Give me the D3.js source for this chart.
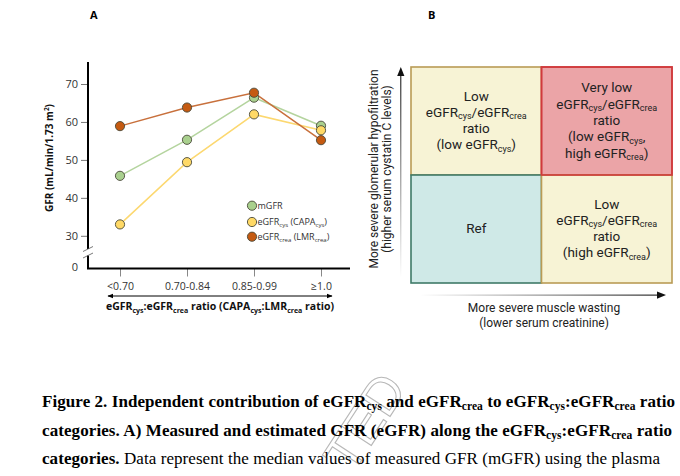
<!DOCTYPE html>
<html>
<head>
<meta charset="utf-8">
<script src="https://cdn.jsdelivr.net/npm/d3@7"></script>
<style>
  body { margin: 0; background: #fff; }
  svg { display: block; }
</style>
</head>
<body>
<svg width="680" height="476"></svg>
<script>
// данные панели A
const categories = ["<0.70", "0.70-0.84", "0.85-0.99", "≥1.0"];
const mGFR = [45.8, 55.3, 66.4, 59.0];
const eGFRcys = [33.0, 49.4, 62.0, 57.8];
const eGFRcrea = [58.9, 63.8, 67.7, 55.2];
const yTicks = [0, 30, 40, 50, 60, 70];

// панель B: клетки 2x2
const wasting = ["less", "more"];
const hypofiltration = ["more", "less"];
const cells = [
    { col: "less", row: "more", fill: "#f7f3d5", stroke: "#b99b55",
      lines: [[["Low"]], [["eGFR"], ["cys", 1], ["/eGFR"], ["crea", 1]], [["ratio"]], [["(low eGFR"], ["cys", 1], [")"]]] },
    { col: "more", row: "more", fill: "#eba4a7", stroke: "#d03a3c",
      lines: [[["Very low"]], [["eGFR"], ["cys", 1], ["/eGFR"], ["crea", 1]], [["ratio"]], [["(low eGFR"], ["cys", 1], [","]], [["high eGFR"], ["crea", 1], [")"]]] },
    { col: "less", row: "less", fill: "#cfe9e7", stroke: "#3f7a68",
      lines: [[["Ref"]]] },
    { col: "more", row: "less", fill: "#f7f3d5", stroke: "#b99b55",
      lines: [[["Low"]], [["eGFR"], ["cys", 1], ["/eGFR"], ["crea", 1]], [["ratio"]], [["(high eGFR"], ["crea", 1], [")"]]] }
];

// подпись к рисунку
const captionLines = [
    [["Figure 2. Independent contribution of eGFR", 0, 1], ["cys", 1, 1], [" and eGFR", 0, 1], ["crea", 1, 1], [" to eGFR", 0, 1], ["cys", 1, 1], [":eGFR", 0, 1], ["crea", 1, 1], [" ratio", 0, 1]],
    [["categories. A) Measured and estimated GFR (eGFR) along the eGFR", 0, 1], ["cys", 1, 1], [":eGFR", 0, 1], ["crea", 1, 1], [" ratio", 0, 1]],
    [["categories.", 0, 1], [" Data represent the median values of measured GFR (mGFR) using the plasma", 0, 0]]
];

const svg = d3.select("svg");

// текст с нижними индексами
function richText(sel, parts, subSize, subDy) {
    let down = false;
    parts.forEach(p => {
        const ts = sel.append("tspan").text(p[0]);
        const isSub = !!p[1];
        if (isSub && !down) ts.attr("dy", subDy);
        if (!isSub && down) ts.attr("dy", -subDy);
        if (isSub) ts.attr("font-size", subSize);
        if (p[2] !== undefined) ts.attr("font-weight", p[2] ? "bold" : "normal");
        down = isSub;
    });
    return sel;
}

// ---------- панель A ----------
const gA = svg.append("g");
const fontA = "'Open Sans', 'Noto Sans', sans-serif";

const x = d3.scalePoint().domain(categories).range([120, 321]);
const y = d3.scaleLinear().domain([0, 30, 70]).range([267, 235.8, 84]);

gA.append("text").attr("x", 90).attr("y", 19).text("A")
    .attr("font-family", fontA).attr("font-weight", "bold").attr("font-size", 11);

// ось Y
const yAxis = gA.append("g").attr("transform", "translate(88,0)")
    .call(d3.axisLeft(y).tickValues(yTicks).tickSize(7).tickPadding(3));
yAxis.select(".domain").remove();
yAxis.selectAll(".tick line").attr("stroke", "#777");
yAxis.selectAll(".tick").filter(d => d === 0).select("line").remove();
yAxis.selectAll(".tick text").attr("font-family", fontA).attr("font-size", 11).attr("fill", "#333");

gA.append("line").attr("x1", 88).attr("x2", 88).attr("y1", 62).attr("y2", 249)
    .attr("stroke", "#000").attr("stroke-width", 2);
gA.append("line").attr("x1", 88).attr("x2", 88).attr("y1", 255.5).attr("y2", 269)
    .attr("stroke", "#000").attr("stroke-width", 2);
[249, 255.5].forEach(v => {
    gA.append("line").attr("x1", 83).attr("x2", 93).attr("y1", v + 2.5).attr("y2", v - 2.5)
        .attr("stroke", "#555").attr("stroke-width", 0.8);
});

// ось X
const xAxis = gA.append("g").attr("transform", "translate(0,268.5)")
    .call(d3.axisBottom(x).tickSize(8).tickPadding(6));
xAxis.select(".domain").remove();
xAxis.selectAll(".tick line").attr("stroke", "#888");
xAxis.selectAll(".tick text").attr("font-family", fontA).attr("font-size", 10.5).attr("fill", "#333");
gA.append("line").attr("x1", 87).attr("x2", 350).attr("y1", 268.5).attr("y2", 268.5)
    .attr("stroke", "#000").attr("stroke-width", 2);

// стрелка
const defs = svg.append("defs");
defs.append("marker").attr("id", "ah").attr("viewBox", "0 0 10 10").attr("refX", 9).attr("refY", 5)
    .attr("markerWidth", 6).attr("markerHeight", 6).attr("orient", "auto-start-reverse")
    .append("path").attr("d", "M0,1 L10,5 L0,9 Z").attr("fill", "#000");
gA.append("line").attr("x1", 108).attr("x2", 332).attr("y1", 296).attr("y2", 296)
    .attr("stroke", "#000").attr("stroke-width", 1)
    .attr("marker-start", "url(#ah)").attr("marker-end", "url(#ah)");

richText(gA.append("text").attr("x", 220).attr("y", 310).attr("text-anchor", "middle")
    .attr("font-family", fontA).attr("font-weight", "bold").attr("font-size", 10.5).attr("fill", "#111"),
    [["eGFR"], ["cys", 1], [":eGFR"], ["crea", 1], [" ratio (CAPA"], ["cys", 1], [":LMR"], ["crea", 1], [" ratio)"]], 7, 2.5);

const yTitle = gA.append("text").attr("transform", "translate(53,158) rotate(-90)")
    .attr("text-anchor", "middle").attr("font-family", fontA).attr("font-weight", "bold")
    .attr("font-size", 10).attr("fill", "#111");
yTitle.append("tspan").text("GFR (mL/min/1.73 m");
yTitle.append("tspan").text("2").attr("font-size", 6.5).attr("dy", -4);
yTitle.append("tspan").text(")").attr("dy", 4);

// серии
const series = [
    { name: "mGFR", values: mGFR, line: "#b4d49e", fill: "#a9d08e", label: [["mGFR"]] },
    { name: "cys", values: eGFRcys, line: "#fcd870", fill: "#ffd966", label: [["eGFR"], ["cys", 1], [" (CAPA"], ["cys", 1], [")"]] },
    { name: "crea", values: eGFRcrea, line: "#c8703c", fill: "#c55a11", label: [["eGFR"], ["crea", 1], [" (LMR"], ["crea", 1], [")"]] }
];

const line = d3.line().x((d, i) => x(categories[i])).y(d => y(d));

series.forEach(s => {
    gA.append("path").attr("d", line(s.values)).attr("fill", "none")
        .attr("stroke", s.line).attr("stroke-width", 1.5);
});
series.forEach(s => {
    gA.selectAll(null).data(s.values).join("circle")
        .attr("cx", (d, i) => x(categories[i])).attr("cy", d => y(d)).attr("r", 4.6)
        .attr("fill", s.fill).attr("stroke", "#4a4a3a").attr("stroke-width", 0.9);
});

// легенда
series.forEach((s, i) => {
    const ly = [205.7, 222, 236.7][i];
    gA.append("circle").attr("cx", 252).attr("cy", ly).attr("r", 4.6)
        .attr("fill", s.fill).attr("stroke", "#4a4a3a").attr("stroke-width", 0.9);
    richText(gA.append("text").attr("x", 257.5).attr("y", ly + 3.2)
        .attr("font-family", fontA).attr("font-size", 9).attr("fill", "#333"),
        s.label, 6, 2);
});

// ---------- панель B ----------
const gB = svg.append("g");
const fontB = "Roboto, 'Noto Sans', sans-serif";

gB.append("text").attr("x", 428).attr("y", 19).text("B")
    .attr("font-family", fontA).attr("font-weight", "bold").attr("font-size", 11);

const bx = d3.scaleBand().domain(wasting).range([411, 672]);
const by = d3.scaleBand().domain(hypofiltration).range([67, 283]);

gB.selectAll(null).data(cells).join("rect")
    .attr("x", d => bx(d.col)).attr("y", d => by(d.row))
    .attr("width", bx.bandwidth()).attr("height", by.bandwidth())
    .attr("fill", d => d.fill).attr("stroke", d => d.stroke).attr("stroke-width", 1.6);
// красная рамка поверх
gB.selectAll(null).data(cells.filter(d => d.col === "more" && d.row === "more")).join("rect")
    .attr("x", d => bx(d.col)).attr("y", d => by(d.row))
    .attr("width", bx.bandwidth()).attr("height", by.bandwidth())
    .attr("fill", "none").attr("stroke", d => d.stroke).attr("stroke-width", 1.6);

const lh = 16.3;
cells.forEach(c => {
    const cx = bx(c.col) + bx.bandwidth() / 2;
    const cy = by(c.row) + by.bandwidth() / 2;
    const n = c.lines.length;
    c.lines.forEach((ln, i) => {
        richText(gB.append("text").attr("x", cx).attr("y", cy + (i - (n - 1) / 2) * lh + 4)
            .attr("text-anchor", "middle").attr("font-family", fontB).attr("font-size", 13.5).attr("fill", "#222"),
            ln, 9, 2.5);
    });
});

// стрелки осей с градиентом
const gx = defs.append("linearGradient").attr("id", "gx");
gx.append("stop").attr("offset", "0%").attr("stop-color", "#000").attr("stop-opacity", 0);
gx.append("stop").attr("offset", "100%").attr("stop-color", "#000").attr("stop-opacity", 1);
const gy = defs.append("linearGradient").attr("id", "gy").attr("x1", 0).attr("y1", 1).attr("x2", 0).attr("y2", 0);
gy.append("stop").attr("offset", "0%").attr("stop-color", "#000").attr("stop-opacity", 0);
gy.append("stop").attr("offset", "100%").attr("stop-color", "#000").attr("stop-opacity", 1);

gB.append("rect").attr("x", 420).attr("y", 294.6).attr("width", 240).attr("height", 1).attr("fill", "url(#gx)");
gB.append("path").attr("d", "M657,291.5 L666,295.1 L657,298.7 Z").attr("fill", "#111");
gB.append("rect").attr("x", 400.3).attr("y", 73).attr("width", 1).attr("height", 205).attr("fill", "url(#gy)");
gB.append("path").attr("d", "M397.2,76 L400.8,67 L404.4,76 Z").attr("fill", "#111");

gB.append("text").attr("x", 544).attr("y", 312).attr("text-anchor", "middle")
    .attr("font-family", fontB).attr("font-size", 12).attr("fill", "#222").text("More severe muscle wasting");
gB.append("text").attr("x", 544).attr("y", 327).attr("text-anchor", "middle")
    .attr("font-family", fontB).attr("font-size", 12).attr("fill", "#222").text("(lower serum creatinine)");
gB.append("text").attr("transform", "translate(378,169) rotate(-90)").attr("text-anchor", "middle")
    .attr("font-family", fontB).attr("font-size", 12).attr("fill", "#222").text("More severe glomerular hypofiltration");
gB.append("text").attr("transform", "translate(391,169) rotate(-90)").attr("text-anchor", "middle")
    .attr("font-family", fontB).attr("font-size", 12).attr("fill", "#222").text("(higher serum cystatin C levels)");

// водяной знак в области подписи
svg.append("text").attr("transform", "translate(380,432) rotate(-57)").attr("text-anchor", "middle")
    .attr("font-family", "'Liberation Sans', sans-serif").attr("font-size", 52)
    .attr("fill", "none").attr("stroke", "#b8b8b8").attr("stroke-width", 1.1)
    .text("TED");

// ---------- подпись ----------
const capEnds = [675, 672, 660];
captionLines.forEach((ln, i) => {
    const t = svg.append("text").attr("x", 42).attr("y", 407 + i * 28.6)
        .attr("font-family", "'Liberation Serif', 'DejaVu Serif', serif").attr("font-size", 17).attr("fill", "#000")
        .attr("textLength", capEnds[i] - 42).attr("lengthAdjust", "spacing");
    richText(t, ln, 11.5, 3);
});
</script>
</body>
</html>
